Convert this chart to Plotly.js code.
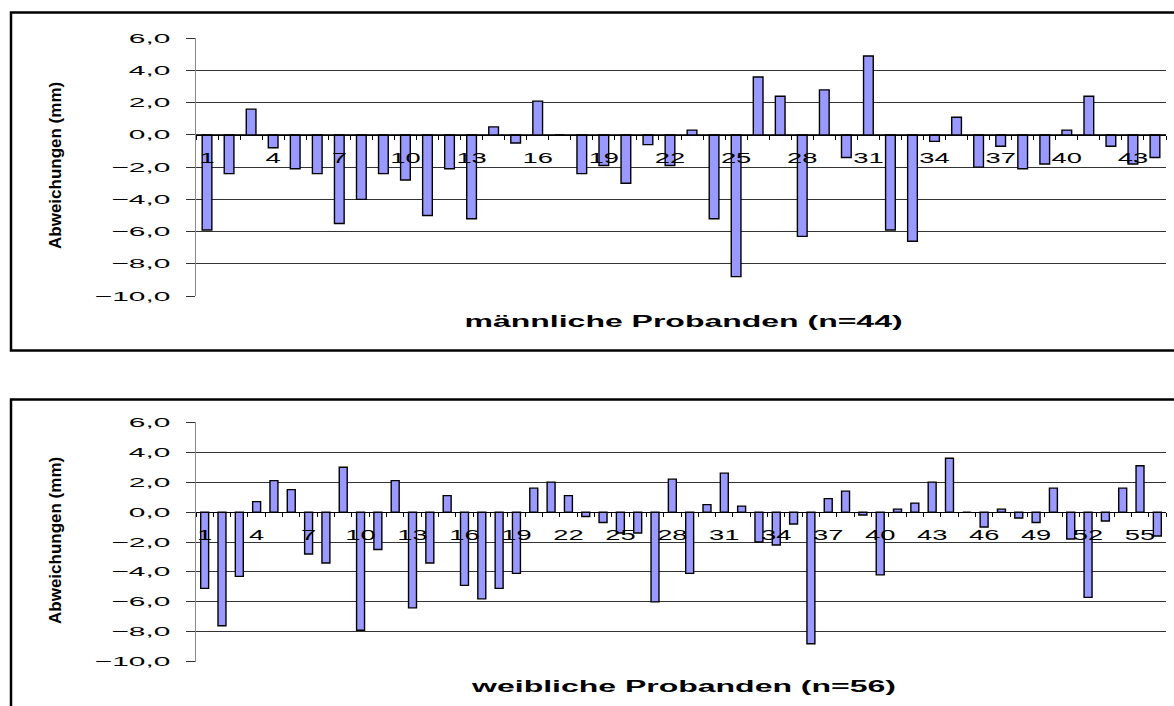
<!DOCTYPE html>
<html>
<head>
<meta charset="utf-8">
<script src="https://cdn.plot.ly/plotly-3.0.1.min.js"></script>
<style>
  html, body { margin: 0; padding: 0; background: #fff; }
  #chart { width: 1174px; height: 706px; }
</style>
</head>
<body>
<div id="chart"></div>
<script>
// ---- data ----
const maleIds = [1,2,3,4,5,6,7,8,9,10,11,12,13,14,15,16,17,18,19,20,21,22,
                 23,24,25,26,27,28,29,30,31,32,33,34,35,36,37,38,39,40,41,42,43,44];
const maleDev = [-5.9,-2.4,1.6,-0.8,-2.1,-2.4,-5.5,-4.0,-2.4,-2.8,-5.0,-2.1,-5.2,0.5,-0.5,2.1,0,-2.4,-1.9,-3.0,-0.6,-1.9,
                 0.3,-5.2,-8.8,3.6,2.4,-6.3,2.8,-1.4,4.9,-5.9,-6.6,-0.4,1.1,-2.0,-0.7,-2.1,-1.8,0.3,2.4,-0.7,-1.8,-1.4];
const femaleIds = [1,2,3,4,5,6,7,8,9,10,11,12,13,14,15,16,17,18,19,20,21,22,23,24,25,26,27,28,
                   29,30,31,32,33,34,35,36,37,38,39,40,41,42,43,44,45,46,47,48,49,50,51,52,53,54,55,56];
const femaleDev = [-5.1,-7.6,-4.3,0.7,2.1,1.5,-2.8,-3.4,3.0,-7.9,-2.5,2.1,-6.4,-3.4,1.1,-4.9,-5.8,-5.1,-4.1,1.6,2.0,1.1,-0.3,-0.7,-1.4,-1.4,-6.0,2.2,
                   -4.1,0.5,2.6,0.4,-2.0,-2.2,-0.8,-8.8,0.9,1.4,-0.2,-4.2,0.2,0.6,2.0,3.6,0,-1.0,0.2,-0.4,-0.7,1.6,-1.8,-5.7,-0.6,1.6,3.1,-1.6];
const maleTitle = 'männliche Probanden (n=44)';
const femaleTitle = 'weibliche Probanden (n=56)';
const yTitle = 'Abweichungen (mm)';
const yRange = [-10, 6];

// ---- layout helpers (pixel geometry) ----
const W = 1174, H = 706;
const FONT = 'Arial, "Liberation Sans", sans-serif';
const px = v => v / W;
const py = v => 1 - v / H;
const plotL = 196, plotR = 1166;
const top1 = 38.3, bot1 = 296;
const top2 = 422.3, bot2 = 661.7;
const zeroFrac = (0 - yRange[0]) / (yRange[1] - yRange[0]);
const dom1 = [py(bot1), py(top1)];
const dom2 = [py(bot2), py(top2)];
const pos1 = dom1[0] + zeroFrac * (dom1[1] - dom1[0]);
const pos2 = dom2[0] + zeroFrac * (dom2[1] - dom2[0]);

const every3 = arr => arr.filter((v, i) => i % 3 === 0);

function xAxis(ids, pos) {
  const tv = every3(ids);
  return {
    domain: [px(plotL), px(plotR)],
    anchor: 'free', position: pos,
    range: [0.5, ids.length + 0.5],
    tickmode: 'array', tickvals: tv, ticktext: tv.map(String),
    ticks: '', showgrid: false, zeroline: false,
    showline: true, linecolor: '#000', linewidth: 1,
    tickfont: { family: FONT, size: 14, color: '#000' },
    ticklabelstandoff: 10,
    minor: { tick0: 0.5, dtick: 1, ticks: 'outside', ticklen: 4, tickwidth: 1, tickcolor: '#000', showgrid: false },
    fixedrange: true
  };
}
function yAxis(dom, anchorX) {
  return {
    domain: dom, anchor: anchorX,
    range: yRange, dtick: 2, tick0: 0, tickformat: '.1f',
    showgrid: true, gridcolor: '#333', gridwidth: 1,
    zeroline: false,
    showline: true, linecolor: '#8a8a8a', linewidth: 1,
    ticks: 'outside', ticklen: 9, tickcolor: '#333', tickwidth: 1,
    tickfont: { family: FONT, size: 13, color: '#000' },
    ticklabelstandoff: 13,
    fixedrange: true
  };
}

const barStyle = { color: '#9999FF', line: { color: '#000', width: 1.4 } };
const traces = [
  { type: 'bar', x: maleIds, y: maleDev, xaxis: 'x', yaxis: 'y', width: 0.44, marker: barStyle, hoverinfo: 'x+y', showlegend: false },
  { type: 'bar', x: femaleIds, y: femaleDev, xaxis: 'x2', yaxis: 'y2', width: 0.46, marker: barStyle, hoverinfo: 'x+y', showlegend: false }
];

const layout = {
  width: W, height: H,
  margin: { l: 0, r: 0, t: 0, b: 0, pad: 0 },
  paper_bgcolor: '#fff', plot_bgcolor: 'rgba(0,0,0,0)',
  separators: ',.',
  showlegend: false,
  xaxis: xAxis(maleIds, pos1),
  yaxis: yAxis(dom1, 'x'),
  xaxis2: xAxis(femaleIds, pos2),
  yaxis2: yAxis(dom2, 'x2'),
  shapes: [
    { type: 'rect', xref: 'paper', yref: 'paper', x0: px(11), x1: 1.02, y0: py(350.5), y1: py(12.5),
      line: { color: '#000', width: 2.5 }, fillcolor: 'rgba(0,0,0,0)', layer: 'below' },
    { type: 'rect', xref: 'paper', yref: 'paper', x0: px(11), x1: 1.02, y0: -0.02, y1: py(399.5),
      line: { color: '#000', width: 2.5 }, fillcolor: 'rgba(0,0,0,0)', layer: 'below' }
  ],
  annotations: [
    { xref: 'paper', yref: 'paper', x: px(683), y: py(322), text: maleTitle, showarrow: false,
      xanchor: 'center', yanchor: 'middle', font: { family: FONT, size: 16, color: '#000', weight: 'bold' } },
    { xref: 'paper', yref: 'paper', x: px(683), y: py(686), text: femaleTitle, showarrow: false,
      xanchor: 'center', yanchor: 'middle', font: { family: FONT, size: 16, color: '#000', weight: 'bold' } },
    { xref: 'paper', yref: 'paper', x: px(55), y: py(166), text: yTitle, showarrow: false, textangle: -90,
      xanchor: 'center', yanchor: 'middle', font: { family: FONT, size: 17, color: '#000', weight: 'bold' } },
    { xref: 'paper', yref: 'paper', x: px(55), y: py(541), text: yTitle, showarrow: false, textangle: -90,
      xanchor: 'center', yanchor: 'middle', font: { family: FONT, size: 17, color: '#000', weight: 'bold' } }
  ]
};

// Stretch text along its own baseline about its anchor point (the reference uses wide lettering)
function stretch(nodes, sx) {
  nodes.forEach(t => {
    if (!t || t.getAttribute('data-stretched')) return;
    const x = parseFloat(t.getAttribute('x')) || 0;
    const tr = t.getAttribute('transform') || '';
    t.setAttribute('transform', tr + ' translate(' + x + ',0) scale(' + sx + ',1) translate(' + (-x) + ',0)');
    t.setAttribute('data-stretched', '1');
  });
}

Plotly.newPlot('chart', traces, layout, { staticPlot: true, displayModeBar: false }).then(gd => {
  stretch(gd.querySelectorAll('g.xtick text, g.x2tick text'), 1.95);
  stretch(gd.querySelectorAll('g.ytick text, g.y2tick text'), 2.3);
  const ann = gd.querySelectorAll('g.annotation text.annotation-text');
  stretch([ann[0], ann[1]], 2.0);
});
</script>
</body>
</html>
